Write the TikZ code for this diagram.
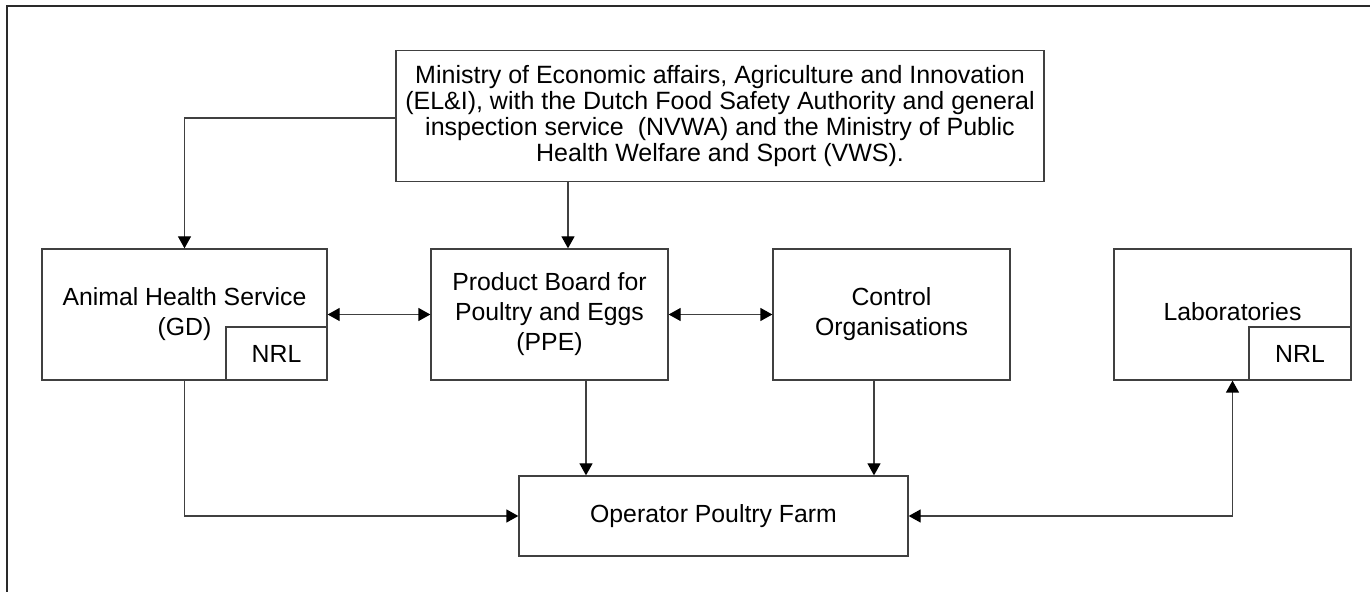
\documentclass[tikz,border=0pt]{standalone}
\usepackage{fontspec}
\setmainfont{Liberation Sans}
\usetikzlibrary{arrows.meta,calc}
\definecolor{edgegray}{HTML}{404040}
\definecolor{framegray}{HTML}{2A2A2A}
\tikzset{
  tip/.tip={Triangle[length=6pt,width=6.5pt,fill=black,color=black]},
}
\begin{document}
\begin{tikzpicture}[x=0.5pt,y=-0.5pt,
  box/.style={draw=edgegray,line width=0.65pt,fill=white,inner sep=0pt,
    align=center,font=\fontsize{12.4}{15}\selectfont},
  link/.style={draw=edgegray,line width=0.65pt,-tip},
  dlink/.style={draw=edgegray,line width=0.65pt,tip-tip}]
\useasboundingbox (0,0) rectangle (1370,592);
% partial frame along top and left
\draw[framegray,line width=0.75pt] (1370,6) -- (7,6) -- (7,592);

% boxes
\node[box,minimum width=324pt,minimum height=65.5pt,font=\fontsize{12.5}{12.9}\selectfont]
  (top) at (720,116)
  {Ministry of Economic affairs, Agriculture and Innovation\\
   (EL\&I), with the Dutch Food Safety Authority and general\\
   inspection service\ \ (NVWA) and the Ministry of Public\\
   Health Welfare and Sport (VWS).};
\node[box,minimum width=142.5pt,minimum height=65.5pt] (ahs) at (184.5,314.5)
  {Animal Health Service\\(GD)};
\node[box,minimum width=50.5pt,minimum height=26.5pt] (ahsnrl) at (276.5,353.5) {NRL};
\node[box,minimum width=118.5pt,minimum height=65.5pt] (ppe) at (549.5,314.5)
  {Product Board for\\Poultry and Eggs\\(PPE)};
\node[box,minimum width=118.5pt,minimum height=65.5pt] (ctrl) at (891.5,314.5)
  {Control\\Organisations};
\node[box,minimum width=118.5pt,minimum height=65.5pt] (labs) at (1232.5,314.5)
  {\raisebox{2.5pt}{Laboratories}};
\node[box,minimum width=51pt,minimum height=26.5pt] (labsnrl) at (1300,353.5) {NRL};
\node[box,minimum width=194.5pt,minimum height=40pt] (op) at (713.5,516)
  {Operator Poultry Farm};

% anchor points for the vertical connectors
\coordinate (ppein)  at ($(ppe.north)+(18.5,0)$);
\coordinate (ppeout) at ($(ppe.south)+(36.5,0)$);
\coordinate (ctrlout) at ($(ctrl.south)+(-17.5,0)$);

% connectors
\draw[link] (top.west |- 0,118) -| (ahs.north);
\draw[link] (ppein |- top.south) -- (ppein);
\draw[dlink] (ahs.east) -- (ppe.west);
\draw[dlink] (ppe.east) -- (ctrl.west);
\draw[link] (ppeout) -- (ppeout |- op.north);
\draw[link] (ctrlout) -- (ctrlout |- op.north);
\draw[link] (ahs.south) |- (op.west);
\draw[dlink] (op.east) -| (labs.south);
\end{tikzpicture}
\end{document}
